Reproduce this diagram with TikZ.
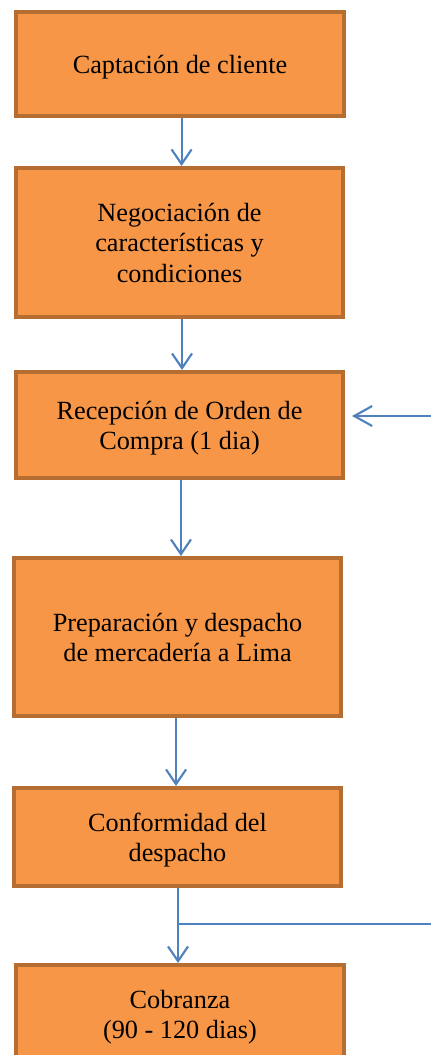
\documentclass[tikz,border=0pt]{standalone}
\usepackage{fontspec}
\setmainfont{Liberation Serif}
\usetikzlibrary{arrows.meta}

\definecolor{naranjaRelleno}{RGB}{247,150,70}
\definecolor{naranjaBorde}{RGB}{182,109,49}
\definecolor{azulFlecha}{RGB}{79,129,189}

\begin{document}
\begin{tikzpicture}[x=0.75pt,y=0.75pt,yscale=-1,xscale=1,
	etapa/.style={rectangle, draw=naranjaBorde, fill=naranjaRelleno, line width=3pt, inner sep=0pt, text width=240pt, align=flush center, font=\fontsize{19.7pt}{23pt}\selectfont,
		execute at begin node={\rule{0pt}{20pt}}, execute at end node={\rule[-6pt]{0pt}{6pt}}},
	flecha/.style={draw=azulFlecha, line width=1.6pt, -{Straight Barb[length=11pt,width=15pt,line width=1.6pt]}},
	linea/.style={draw=azulFlecha, line width=1.6pt}]
	%set diagram left start at 0, and has height of 1055
	\useasboundingbox (0,0) rectangle (431,1055);

	%Shape: Rectangle
	\node [etapa, minimum width=246pt, minimum height=78pt] (captacion) at (180,64) {Captación de cliente};
	%Shape: Rectangle
	\node [etapa, minimum width=245.25pt, minimum height=111.75pt] (negociacion) at (179.5,242.5) {Negociación de\\características y\\condiciones};
	%Shape: Rectangle
	\node [etapa, minimum width=245.25pt, minimum height=79.5pt] (recepcion) at (179.5,425) {Recepción de Orden de\\Compra (1 dia)};
	%Shape: Rectangle
	\node [etapa, minimum width=245.25pt, minimum height=118.5pt] (preparacion) at (177.5,637) {Preparación y despacho\\de mercadería a Lima};
	%Shape: Rectangle
	\node [etapa, minimum width=245.25pt, minimum height=73.5pt] (conformidad) at (177.5,837) {Conformidad del\\despacho};
	%Shape: Rectangle
	\node [etapa, minimum width=246pt, minimum height=73.5pt] (cobranza) at (180,1014) {Cobranza\\(90 - 120 dias)};

	%Straight Lines
	\draw [flecha] ([xshift=1.2pt]captacion.south) -- ([xshift=1.2pt]captacion.south |- negociacion.north);
	%Straight Lines
	\draw [flecha] ([xshift=1.9pt]negociacion.south) -- ([xshift=1.9pt]negociacion.south |- recepcion.north);
	%Straight Lines
	\draw [flecha] ([xshift=1.1pt]recepcion.south) -- ([xshift=1.1pt]recepcion.south |- preparacion.north);
	%Straight Lines
	\draw [flecha] ([xshift=-1.1pt]preparacion.south) -- ([xshift=-1.1pt]preparacion.south |- conformidad.north);
	%Straight Lines
	\draw [flecha] ([xshift=0.4pt]conformidad.south) -- ([xshift=0.4pt]conformidad.south |- cobranza.north);

	%Straight Lines
	\coordinate (entrada) at (431,416);
	\draw [flecha, -{Straight Barb[length=13.5pt,width=15pt,line width=1.6pt]}, shorten >=5.25pt] (entrada) -- (entrada -| recepcion.east);
	%Straight Lines
	\coordinate (salida) at (431,924);
	\draw [linea] (salida) -- ([xshift=0.4pt]salida -| conformidad.south);

\end{tikzpicture}
\end{document}
